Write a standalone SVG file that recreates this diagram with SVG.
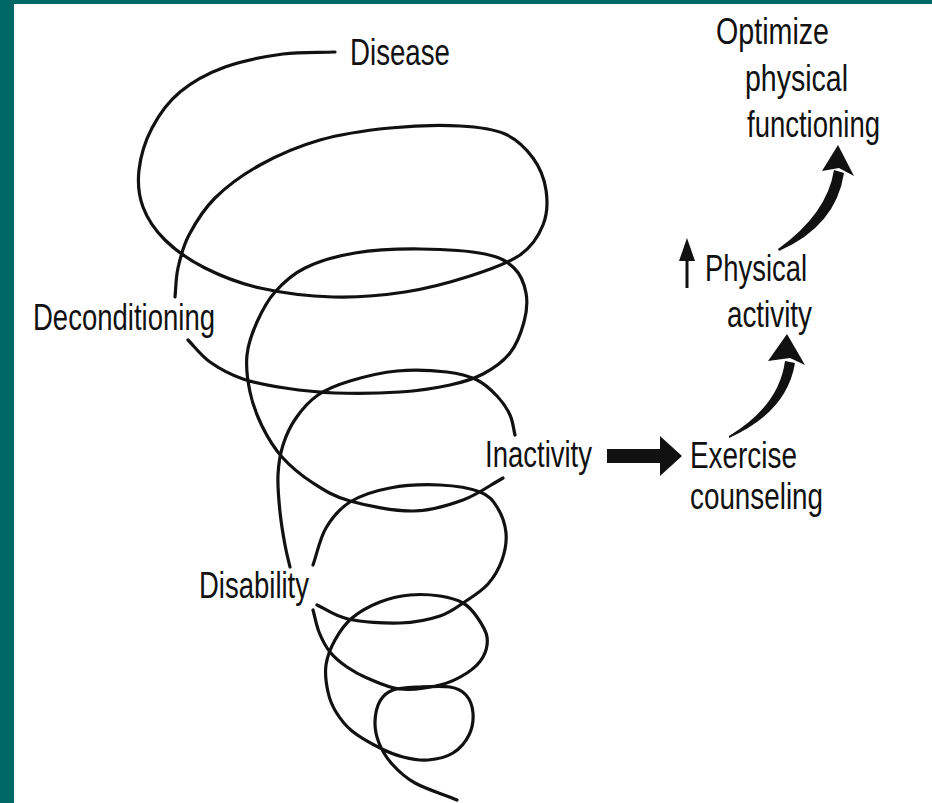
<svg xmlns="http://www.w3.org/2000/svg" width="932" height="803" viewBox="0 0 932 803">
<style>
.lbl{font-family:"Liberation Sans",Arial,sans-serif;font-size:36px;fill:#111;}
.sp{fill:none;stroke:#111;stroke-width:3.2;stroke-linecap:round;stroke-linejoin:round;}
.arr{fill:#111;stroke:none;}
</style>
<rect x="0" y="0" width="932" height="803" fill="#ffffff"/>
<rect x="0" y="0" width="932" height="4" fill="#006966"/>
<rect x="0" y="0" width="14" height="803" fill="#006966"/>

<g id="spiral">
<path class="sp" d="M335,52 C317.7,52.7 301.3,51.5 283,54 S242.2,60.7 225,67 S192.2,81.8 180,92 S158.8,115 152,128 S140.5,156.8 139,170 S138.7,195.3 143,207 S154.7,229.8 165,240 S189.2,260 205,268 S238.7,283.2 260,288 S308.8,296.3 333,297 S382.2,295.5 405,292 S450.8,282.2 470,276 S507.8,263.5 520,255 S538.7,235.8 543,225 S547.7,201.2 546,190 S539.8,167.3 533,158 S517.2,139.3 505,134 S479.2,127 460,126 S413.3,125.7 390,128 S341.7,133.8 320,140 S277.5,155.3 260,165 S226.8,186.3 215,198 S195.2,223.3 189,235 S180.3,257.7 178,268 S176,287.3 175,297"/>
<path class="sp" d="M188,340 C195.3,347.3 200.8,355.5 210,362 S230.5,374.7 243,379 S269.7,385.7 285,388 S315.8,392.3 335,393 S380.8,393.3 400,392 S436.2,388 450,385 S473,379.3 483,374 S503.2,361.7 510,353 S521.3,332 524,322 S527.7,302 526,293 S520.8,274.5 514,268 S500.7,257.2 485,254 S441.7,249.2 420,249 S374.2,249.8 355,253 S318.3,261.5 305,268 S283,283 275,292 S261.7,311.5 257,322 S248.2,343.3 247,355 S247.5,380.2 250,392 S256.7,415.2 262,426 S273.5,447.5 282,457 S301.7,475.7 313,483 S333.3,496.3 350,501 S394.2,511.2 413,511 S448,505.5 463,500 S489.7,485.3 503,478"/>
<path class="sp" d="M515,435 C513.3,428.3 513,421.5 510,415 S502.5,401.8 497,396 S485.3,384 477,380 S460.3,373.5 447,372 S413.2,369.5 397,371 S363.2,377 350,381 S327,388.8 318,395 S301.8,409.7 296,418 S286,435.5 283,445 S278.5,463.8 278,475 S278.8,500.3 280,512 S283.3,535.8 285,545 S288.3,559.7 290,567"/>
<path class="sp" d="M317,605 C327.3,609.7 334.2,616 348,619 S384.7,623.5 400,623 S429,619.7 440,616 S458,606.3 466,601 S482,590.8 488,584 S499,568.5 502,560 S506.8,541.8 506,533 S501.3,513.8 497,507 S489.5,495.7 480,492 S455,485.7 440,485 S405,485.2 390,488 S360.7,495.3 350,502 S332.2,517.5 326,528 S317.3,552.7 313,565"/>
<path class="sp" d="M313,610 C315,617.3 316.2,625 319,632 S325.3,646.2 330,652 S340.8,662.7 347,667 S358.2,674.3 367,678 S387.8,687.8 400,689 S428.8,687.7 440,685 S459.8,677.7 467,673 S479.7,663 483,657 S488,643.7 487,637 S481,622.7 477,617 S469.2,606.5 463,603 S448.8,597.3 440,596 S420,594 410,595 S389.7,598.2 380,602 S359.5,611.7 352,618 S339.3,632.2 335,640 S327.2,656.3 326,665 S326.3,684.2 328,692 S332,705.5 336,712 S344.7,725 352,731 S371.5,743.7 380,748 S395,755 403,757 S419.7,760.7 428,760 S446.2,757.2 453,753 S465.7,741.7 469,735 S473.5,719.7 473,713 S469.8,699.3 466,695 S457.7,688.3 450,687 S429.5,686.5 420,687 S399.7,687.7 393,690 S383,695.7 380,701 S375.2,715 375,722 S376.2,736 379,743 S386,757.3 392,764 S404.2,777 415,783 S443,794.3 457,800"/>
</g>

<g id="disease"><text class="lbl" x="350" y="65" textLength="100" lengthAdjust="spacingAndGlyphs">Disease</text></g>
<g id="deconditioning"><text class="lbl" x="33" y="330" textLength="182" lengthAdjust="spacingAndGlyphs">Deconditioning</text></g>
<g id="inactivity"><text class="lbl" x="485" y="467" textLength="107" lengthAdjust="spacingAndGlyphs">Inactivity</text></g>
<g id="disability"><text class="lbl" x="199" y="598" textLength="110" lengthAdjust="spacingAndGlyphs">Disability</text></g>
<g id="exercise-counseling">
<text class="lbl" x="690" y="468" textLength="107" lengthAdjust="spacingAndGlyphs">Exercise</text>
<text class="lbl" x="690" y="509" textLength="133" lengthAdjust="spacingAndGlyphs">counseling</text>
</g>
<g id="physical-activity">
<line x1="687" y1="288" x2="687" y2="256" stroke="#111" stroke-width="3"/>
<polygon class="arr" points="687,238 679,261 695,261"/>
<text class="lbl" x="705" y="281" textLength="102" lengthAdjust="spacingAndGlyphs">Physical</text>
<text class="lbl" x="727" y="327" textLength="85" lengthAdjust="spacingAndGlyphs">activity</text>
</g>
<g id="optimize">
<text class="lbl" x="716" y="44" textLength="113" lengthAdjust="spacingAndGlyphs">Optimize</text>
<text class="lbl" x="745" y="91" textLength="103" lengthAdjust="spacingAndGlyphs">physical</text>
<text class="lbl" x="747" y="137" textLength="133" lengthAdjust="spacingAndGlyphs">functioning</text>
</g>

<g id="connectors">
<rect class="arr" x="607" y="449" width="57" height="14"/>
<polygon class="arr" points="660,436 682,456 660,476"/>
<path class="arr" d="M729,438 Q787,412 795,363 L785,361 Q779,406 729,436 Z"/>
<polygon class="arr" points="787,334 805,365 790,358 768,361"/>
<path class="arr" d="M779,251 Q836,226 844,173 L834,170 Q827,214 778,249 Z"/>
<polygon class="arr" points="838,145 854,176 839,168 822,171"/>
</g>
</svg>
